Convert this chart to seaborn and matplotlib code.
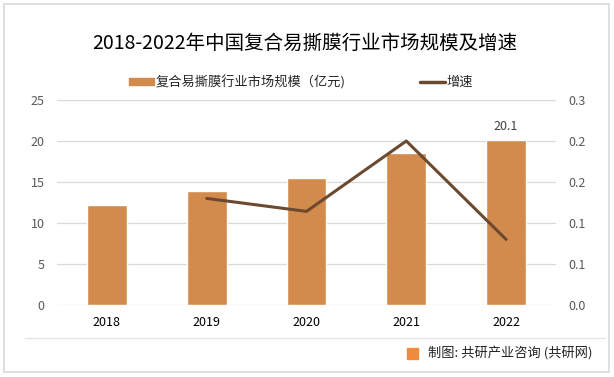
import numpy as np
import pandas as pd
import seaborn as sns
import matplotlib
matplotlib.use("Agg")
import matplotlib.pyplot as plt
from matplotlib.patches import Rectangle
from matplotlib.lines import Line2D

years = ["2018", "2019", "2020", "2021", "2022"]
market_size = [12.2, 13.9, 15.5, 18.5, 20.1]          # 亿元
growth = [np.nan, 0.156, 0.137, 0.240, 0.096]
bar_label = "复合易撕膜行业市场规模（亿元)"
line_label = "增速"
title = "2018-2022年中国复合易撕膜行业市场规模及增速"
source = "制图: 共研产业咨询 (共研网)"

bar_color = "#D38B4D"
line_color = "#6B4A2F"

sns.set_theme(style="white")
plt.rcParams["font.family"] = ["Noto Sans CJK SC", "DejaVu Sans"]

df = pd.DataFrame({"year": years, "size": market_size, "growth": growth})
df["pos"] = range(len(df))

fig = plt.figure(figsize=(6.14, 3.77), dpi=100)
ax = fig.add_axes([57/614, 1-305/377, 499/614, 205/377])

sns.barplot(data=df, x="year", y="size", color=bar_color, width=0.4,
            saturation=1, ax=ax, zorder=3)
ax.set_xlim(-0.5, 4.5)
ax.set_ylim(0, 25)
ax.set_yticks(range(0, 26, 5))
ax.grid(axis="y", color="#D9D9D9", lw=0.9, zorder=0)
ax.set_axisbelow(True)
ax.set_xlabel("")
ax.set_ylabel("")
for s in ax.spines.values():
    s.set_visible(False)
ax.tick_params(axis="y", length=0, labelsize=9, labelcolor="#595959", pad=9)
ax.tick_params(axis="x", length=0, labelsize=9, labelcolor="#000000", pad=8)

# label only on last bar
ax.text(4, market_size[-1] + 0.9, f"{market_size[-1]:.1f}", ha="center",
        va="bottom", fontsize=9, color="#404040")

ax2 = ax.twinx()
sns.lineplot(data=df.dropna(), x="pos", y="growth", color=line_color,
             lw=2.2, ax=ax2, zorder=5)
ax2.set_xlim(-0.5, 4.5)
ax2.set_ylim(0, 0.3)
ax2.set_yticks(np.linspace(0, 0.3, 6))
ax2.set_yticklabels([f"{v:.1f}" for v in np.linspace(0, 0.3, 6)])
ax2.set_ylabel("")
for s in ax2.spines.values():
    s.set_visible(False)
ax2.tick_params(axis="y", length=0, labelsize=9, labelcolor="#595959", pad=9)

fig.text(0.497, 1-43/377, title, ha="center", va="center", fontsize=14,
         color="#000000")

handles = [Rectangle((0, 0), 1, 1, color=bar_color),
           Line2D([0], [0], color=line_color, lw=2.5)]
fig.legend(handles, [bar_label, line_label], loc="center",
           bbox_to_anchor=(0.49, 1-82/377), ncol=2, frameon=False,
           fontsize=9.5, handlelength=1.9, handleheight=0.45,
           handletextpad=0.15, columnspacing=5.6)

# frame, separator and source note
fig.patches.append(Rectangle((4/614, 1-372/377), 605/614, 368/377,
                             transform=fig.transFigure, fill=False,
                             ec="#D9D9D9", lw=1.2))
fig.lines.append(Line2D([25/614, 605/614], [1-338/377]*2,
                        transform=fig.transFigure, color="#E3E3E3", lw=0.9))
fig.patches.append(Rectangle((407/614, 1-359/377), 11/614, 11/377,
                             transform=fig.transFigure, color="#F08A3C"))
fig.text(428/614, 1-354/377, source, ha="left", va="center", fontsize=9.5,
         color="#222222")

fig.savefig("out.png", dpi=100)
